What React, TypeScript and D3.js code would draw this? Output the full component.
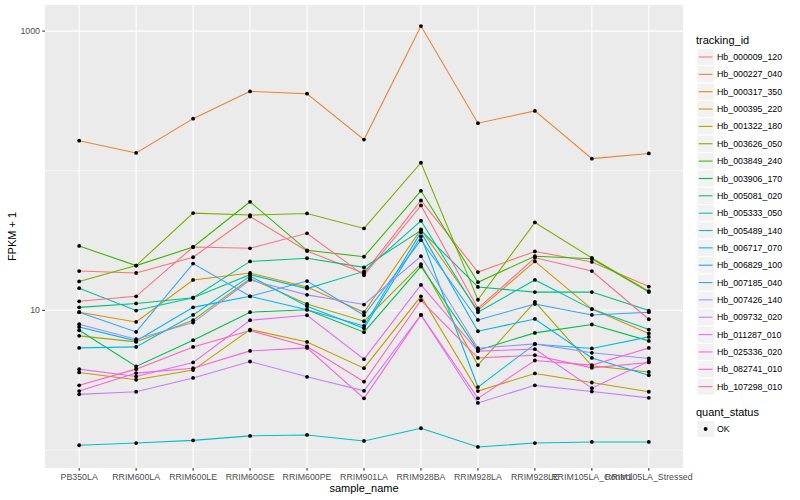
// App.tsx
// ggplot-style line chart of FPKM + 1 per sample, log y axis, drawn with D3
import React, { useEffect, useRef } from "react";
import * as d3 from "d3";

const sampleNames = [
  "PB350LA", "RRIM600LA", "RRIM600LE", "RRIM600SE", "RRIM600PE", "RRIM901LA",
  "RRIM928BA", "RRIM928LA", "RRIM928LE", "RRIM105LA_Control", "RRIM105LA_Stressed",
];

const trackingIds = [
  "Hb_000009_120", "Hb_000227_040", "Hb_000317_350", "Hb_000395_220", "Hb_001322_180",
  "Hb_003626_050", "Hb_003849_240", "Hb_003906_170", "Hb_005081_020", "Hb_005333_050",
  "Hb_005489_140", "Hb_006717_070", "Hb_006829_100", "Hb_007185_040", "Hb_007426_140",
  "Hb_009732_020", "Hb_011287_010", "Hb_025336_020", "Hb_082741_010", "Hb_107298_010",
];

// FPKM + 1, one array per tracking_id, in sample order
const hb000009_120 = [19.1, 18.5, 24.0, 47.0, 26.6, 18.4, 61.2, 18.8, 26.4, 22.2, 14.8];
const hb000227_040 = [164, 134, 236, 370, 356, 167, 1087, 219, 268, 122, 133];
const hb000317_350 = [9.69, 8.25, 16.5, 18.5, 14.7, 9.69, 38.0, 10.0, 22.4, 10.2, 6.82];
const hb000395_220 = [3.59, 3.18, 3.73, 7.28, 5.94, 3.85, 12.6, 2.64, 3.53, 3.04, 2.61];
const hb001322_180 = [6.56, 5.94, 8.49, 16.9, 11.1, 8.35, 21.4, 4.05, 11.5, 4.0, 3.62];
const hb003626_050 = [16.1, 20.9, 49.7, 48.1, 49.4, 38.6, 114, 11.9, 42.6, 23.7, 13.7];
const hb003849_240 = [28.9, 20.9, 28.4, 59.9, 26.9, 24.2, 71.8, 15.9, 24.4, 23.4, 13.5];
const hb003906_170 = [7.2, 3.96, 6.11, 9.69, 10.1, 6.97, 20.6, 5.18, 6.89, 7.91, 6.04];
const hb005081_020 = [10.5, 11.2, 12.3, 22.4, 23.6, 20.3, 37.4, 14.7, 13.5, 13.5, 9.96];
const hb005333_050 = [14.4, 9.96, 12.3, 18.0, 14.3, 19.0, 43.8, 9.69, 16.5, 10.2, 7.28];
const hb005489_140 = [1.08, 1.12, 1.17, 1.26, 1.28, 1.16, 1.43, 1.05, 1.12, 1.14, 1.14];
const hb006717_070 = [5.38, 5.47, 9.26, 17.6, 10.7, 7.44, 33.8, 2.82, 5.72, 5.33, 6.45];
const hb006829_100 = [7.6, 6.04, 10.5, 12.6, 10.1, 7.73, 36.3, 7.08, 8.67, 4.56, 3.43];
const hb007185_040 = [9.69, 7.0, 21.6, 12.6, 16.2, 9.22, 31.8, 8.53, 11.1, 9.26, 9.69];
const hb007426_140 = [7.95, 6.21, 8.17, 16.5, 12.9, 11.0, 24.4, 5.35, 5.75, 4.96, 4.52];
const hb009732_020 = [2.5, 2.61, 3.28, 4.3, 3.34, 2.65, 9.26, 2.17, 2.9, 2.62, 2.36];
const hb011287_010 = [3.79, 3.36, 4.23, 8.49, 9.22, 4.47, 15.2, 5.1, 5.27, 2.77, 4.32];
const hb025336_020 = [2.64, 3.55, 3.85, 5.12, 5.38, 2.34, 9.26, 2.34, 4.37, 4.05, 5.38];
const hb082741_010 = [2.9, 3.79, 5.47, 7.16, 5.51, 3.08, 11.8, 4.56, 4.77, 3.87, 4.23];
const hb107298_010 = [11.6, 12.6, 28.4, 27.8, 35.6, 17.8, 56.4, 10.3, 23.8, 19.1, 8.63];

const seriesValues = [
  hb000009_120, hb000227_040, hb000317_350, hb000395_220, hb001322_180,
  hb003626_050, hb003849_240, hb003906_170, hb005081_020, hb005333_050,
  hb005489_140, hb006717_070, hb006829_100, hb007185_040, hb007426_140,
  hb009732_020, hb011287_010, hb025336_020, hb082741_010, hb107298_010,
];

const yBreaks = [10, 1000];
const yMinor = [1, 100];

// ggplot hue palette, 20 levels
const palette = [
  "#F8766D", "#EA8331", "#D89000", "#C09B00", "#A3A500", "#7CAE00", "#39B600",
  "#00BB4E", "#00BF7D", "#00C1A3", "#00BFC4", "#00BAE0", "#00B0F6", "#35A2FF",
  "#9590FF", "#C77CFF", "#E76BF3", "#FA62DB", "#FF62BC", "#FF6C91",
];

const FONT = "'Liberation Sans', Arial, Helvetica, sans-serif";

interface Point { sample: string; value: number; }

export default function App() {
  const svgRef = useRef<SVGSVGElement>(null);

  useEffect(() => {
    if (!svgRef.current) return;
    const width = 800, height = 500;
    const left = 45, right = 683, top = 5, bottom = 468;

    const svg = d3.select(svgRef.current);
    svg.selectAll("*").remove();

    // scales (ggplot: discrete x with 0.6 expansion, log y with 5% expansion)
    const x = d3.scalePoint<string>().domain(sampleNames).range([left, right]).padding(0.6);
    const all = seriesValues.flat();
    const lo = Math.log10(d3.min(all) as number);
    const hi = Math.log10(d3.max(all) as number);
    const pad = (hi - lo) * 0.05;
    const y = d3.scaleLog().domain([10 ** (lo - pad), 10 ** (hi + pad)]).range([bottom, top]);

    svg.append("rect")
      .attr("width", width).attr("height", height).attr("fill", "#ffffff");

    // panel
    svg.append("rect")
      .attr("x", left).attr("y", top)
      .attr("width", right - left).attr("height", bottom - top)
      .attr("fill", "#EBEBEB");

    const grid = svg.append("g");
    grid.selectAll("line.minor")
      .data(yMinor)
      .enter().append("line")
      .attr("x1", left).attr("x2", right)
      .attr("y1", (d) => y(d)).attr("y2", (d) => y(d))
      .attr("stroke", "#ffffff").attr("stroke-width", 0.53);
    grid.selectAll("line.majorY")
      .data(yBreaks)
      .enter().append("line")
      .attr("x1", left).attr("x2", right)
      .attr("y1", (d) => y(d)).attr("y2", (d) => y(d))
      .attr("stroke", "#ffffff").attr("stroke-width", 1.07);
    grid.selectAll("line.majorX")
      .data(sampleNames)
      .enter().append("line")
      .attr("x1", (d) => x(d) as number).attr("x2", (d) => x(d) as number)
      .attr("y1", top).attr("y2", bottom)
      .attr("stroke", "#ffffff").attr("stroke-width", 1.07);

    // lines
    const line = d3.line<Point>()
      .x((d) => x(d.sample) as number)
      .y((d) => y(d.value));
    const series = seriesValues.map((vals) => vals.map((v, i) => ({ sample: sampleNames[i], value: v })));
    svg.append("g")
      .selectAll("path")
      .data(series)
      .enter().append("path")
      .attr("d", (d) => line(d))
      .attr("fill", "none")
      .attr("stroke", (_, i) => palette[i])
      .attr("stroke-width", 1.07);

    // points
    svg.append("g")
      .selectAll("circle")
      .data(series.flat())
      .enter().append("circle")
      .attr("cx", (d) => x(d.sample) as number)
      .attr("cy", (d) => y(d.value))
      .attr("r", 1.9)
      .attr("fill", "#000000");

    // axes
    const yAxis = svg.append("g");
    yAxis.selectAll("line")
      .data(yBreaks)
      .enter().append("line")
      .attr("x1", left - 2.75).attr("x2", left)
      .attr("y1", (d) => y(d)).attr("y2", (d) => y(d))
      .attr("stroke", "#333333").attr("stroke-width", 1.07);
    yAxis.selectAll("text")
      .data(yBreaks)
      .enter().append("text")
      .attr("x", left - 5).attr("y", (d) => y(d))
      .attr("dy", "0.35em")
      .attr("text-anchor", "end")
      .attr("font-family", FONT).attr("font-size", 8.8)
      .attr("fill", "#4D4D4D")
      .text((d) => String(d));

    const xAxis = svg.append("g");
    xAxis.selectAll("line")
      .data(sampleNames)
      .enter().append("line")
      .attr("x1", (d) => x(d) as number).attr("x2", (d) => x(d) as number)
      .attr("y1", bottom).attr("y2", bottom + 2.75)
      .attr("stroke", "#333333").attr("stroke-width", 1.07);
    xAxis.selectAll("text")
      .data(sampleNames)
      .enter().append("text")
      .attr("x", (d) => x(d) as number).attr("y", bottom + 12)
      .attr("text-anchor", "middle")
      .attr("font-family", FONT).attr("font-size", 8.8)
      .attr("fill", "#4D4D4D")
      .text((d) => d);

    svg.append("text")
      .attr("x", (left + right) / 2).attr("y", 492)
      .attr("text-anchor", "middle")
      .attr("font-family", FONT).attr("font-size", 11)
      .attr("fill", "#000000")
      .text("sample_name");
    svg.append("text")
      .attr("transform", `translate(16,${(top + bottom) / 2}) rotate(-90)`)
      .attr("text-anchor", "middle")
      .attr("font-family", FONT).attr("font-size", 11)
      .attr("fill", "#000000")
      .text("FPKM + 1");

    // legend: tracking_id
    const lx = 697, step = 17.35, firstY = 57;
    svg.append("text")
      .attr("x", lx - 1).attr("y", 44)
      .attr("font-family", FONT).attr("font-size", 11)
      .attr("fill", "#000000")
      .text("tracking_id");
    const keys = svg.append("g").selectAll("g")
      .data(trackingIds)
      .enter().append("g")
      .attr("transform", (_, i) => `translate(${lx},${firstY + i * step})`);
    keys.append("rect")
      .attr("x", 0).attr("y", -8.6).attr("width", 17.3).attr("height", 17.3)
      .attr("fill", "#F2F2F2").attr("stroke", "#ffffff").attr("stroke-width", 1);
    keys.append("line")
      .attr("x1", 1.7).attr("x2", 15.6).attr("y1", 0).attr("y2", 0)
      .attr("stroke", (_, i) => palette[i]).attr("stroke-width", 1.07);
    keys.append("text")
      .attr("x", 20).attr("y", 0).attr("dy", "0.35em")
      .attr("font-family", FONT).attr("font-size", 8.8)
      .attr("fill", "#000000")
      .text((d) => d);

    // legend: quant_status
    svg.append("text")
      .attr("x", lx - 1).attr("y", 416)
      .attr("font-family", FONT).attr("font-size", 11)
      .attr("fill", "#000000")
      .text("quant_status");
    const ok = svg.append("g").attr("transform", `translate(${lx},429)`);
    ok.append("rect")
      .attr("x", 0).attr("y", -8.6).attr("width", 17.3).attr("height", 17.3)
      .attr("fill", "#F2F2F2").attr("stroke", "#ffffff").attr("stroke-width", 1);
    ok.append("circle")
      .attr("cx", 8.6).attr("cy", 0).attr("r", 1.9).attr("fill", "#000000");
    ok.append("text")
      .attr("x", 20).attr("y", 0).attr("dy", "0.35em")
      .attr("font-family", FONT).attr("font-size", 8.8)
      .attr("fill", "#000000")
      .text("OK");
  }, []);

  return (
    <div style={{ position: "absolute", left: 0, top: 0 }}>
      <svg ref={svgRef} width={800} height={500} style={{ display: "block" }} />
    </div>
  );
}
